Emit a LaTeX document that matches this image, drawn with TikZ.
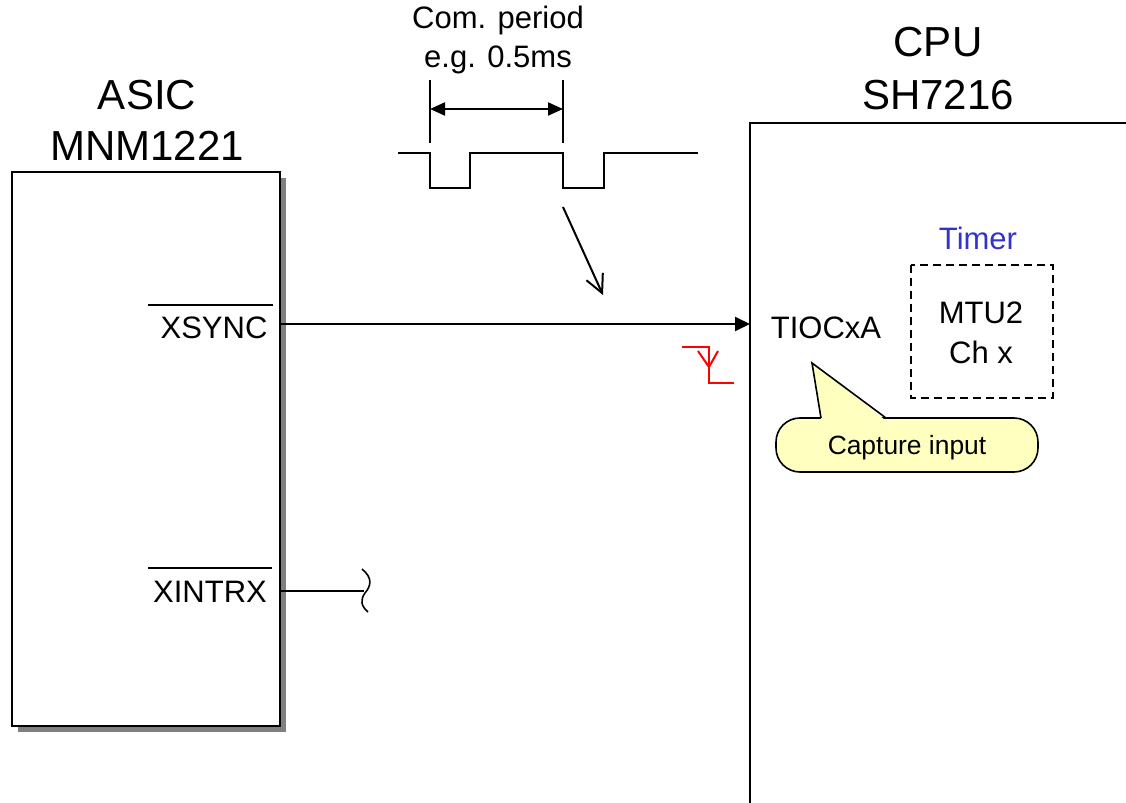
\documentclass[tikz,border=0pt]{standalone}
\usepackage{fontspec}
\setmainfont{Liberation Sans}
\usetikzlibrary{arrows.meta}

\definecolor{timerblue}{HTML}{3333CC}
\definecolor{callyel}{HTML}{FFFFC0}
\definecolor{shadowgray}{HTML}{808080}

\tikzset{
  lbl/.style={font=\fontsize{15.5}{18}\selectfont, inner sep=0pt},
  big/.style={font=\fontsize{21}{25}\selectfont, inner sep=0pt},
  wire/.style={line width=1pt},
}

\begin{document}
\begin{tikzpicture}[x=0.5pt,y=-0.5pt]
  \useasboundingbox (0,0) rectangle (1126,803);
  % ASIC block with shadow
  \fill[shadowgray] (18,178) rectangle (286,732);
  \draw[wire, fill=white] (12,172) rectangle (280,726);
  \node[big] (asictitle) at (147,95) {ASIC};
  \node[big] (asicname) at (147,146) {MNM1221};
  % CPU block (runs off the page)
  \draw[wire] (1126,123) -- (750,123) -- (750,803);
  \node[big] (cputitle) at (938,42) {CPU};
  \node[big] (cpuname) at (938,95) {SH7216};
  % pins
  \node[lbl] (xsync) at (214,328) {XSYNC};
  \draw[line width=0.8pt] (148,305) -- (273,305);
  \node[lbl] (xintrx) at (210,592) {XINTRX};
  \draw[line width=0.8pt] (148,568) -- (272,568);
  \coordinate (xsyncpin) at (280,324);
  \coordinate (tiocpin) at (750,324);
  \coordinate (xintpin) at (280,591);
  \coordinate (xintend) at (364,591);
  \draw[wire, -{Triangle[length=7.5pt,width=7pt]}] (xsyncpin) -- (tiocpin);
  \draw[wire] (xintpin) -- (xintend);
  \draw[line width=0.8pt] (362,569) .. controls (373,578) and (371,586) .. (365,593)
    .. controls (360,600) and (361,606) .. (368,612);
  % signal waveform
  \draw[wire] (398,153) -- (430,153) -- (430,188) -- (470,188) -- (470,153) -- (563,153)
    -- (563,188) -- (604,188) -- (604,153) -- (698,153);
  \coordinate (pstart) at (430,109);
  \coordinate (pend) at (563,109);
  \draw[wire] (430,80) -- (430,143);
  \draw[wire] (563,80) -- (563,143);
  \draw[wire, {Triangle[length=7.5pt,width=6.5pt]}-{Triangle[length=7.5pt,width=6.5pt]}] (pstart) -- (pend);
  \node[lbl] (period) at (498,20) {Com. period};
  \node[lbl] (example) at (498,60) {e.g. 0.5ms};
  \coordinate (wavept) at (563,207);
  \coordinate (linept) at (603,295);
  \draw[wire, -{Straight Barb[length=9pt,width=9pt]}] (wavept) -- (linept);
  % falling edge mark
  \draw[red, line width=1pt] (682,347) -- (709,347) -- (709,383) -- (734,383);
  \draw[red, line width=1pt] (698,351) -- (709,367) -- (718,351);
  % timer
  \node[lbl] (tiocxa) at (826,328) {TIOCxA};
  \node[lbl, text=timerblue] (timer) at (978,238) {Timer};
  \draw[line width=0.8pt, dash pattern=on 4pt off 2.5pt] (911,265) rectangle (1053,398);
  \node[lbl] (mtu) at (981,313) {MTU2};
  \node[lbl] (chx) at (981,352) {Ch x};
  % callout
  \draw[line width=0.8pt, fill=callyel, rounded corners=12] (776,418) rectangle (1038,472);
  \fill[callyel] (821,420) -- (812,363) -- (885,420) -- cycle;
  \draw[line width=0.8pt] (821,418) -- (812,363) -- (886,418);
  \node[font=\fontsize{13.2}{16}\selectfont, inner sep=0pt] (capture) at (907,448) {Capture input};
\end{tikzpicture}
\end{document}
